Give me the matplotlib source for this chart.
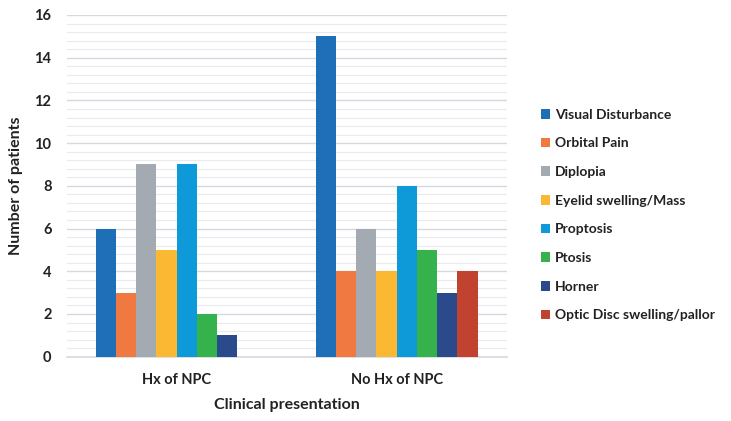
import numpy as np
import matplotlib.pyplot as plt
from matplotlib.ticker import MultipleLocator

# data
groups = ["Hx of NPC", "No Hx of NPC"]
series = ["Visual Disturbance", "Orbital Pain", "Diplopia", "Eyelid swelling/Mass",
          "Proptosis", "Ptosis", "Horner", "Optic Disc swelling/pallor"]
hx_npc = [6, 3, 9, 5, 9, 2, 1, 0]
no_hx_npc = [15, 4, 6, 4, 8, 5, 3, 4]
colors = ["#1F6EB8", "#F07841", "#A3AAB1", "#FBB832", "#0E9AD9",
          "#35B24C", "#2B4A8C", "#C1432F"]

plt.rcParams['font.family'] = ['Lato', 'DejaVu Sans']

fig = plt.figure(figsize=(7.31, 4.21), dpi=100)
ax = fig.add_axes([0.0912, 0.1527, 0.6019, 0.8117])

x = np.arange(len(groups))
n = len(series)
group_w = 0.735
bw = group_w / n
for i, name in enumerate(series):
    vals = [hx_npc[i], no_hx_npc[i]]
    offs = x - group_w / 2 + bw * (i + 0.5)
    ax.bar(offs, vals, width=bw, color=colors[i], label=name, zorder=3)

ax.set_xlim(-0.5, 1.5)
ax.set_ylim(0, 16)
ax.yaxis.set_major_locator(MultipleLocator(2))
ax.yaxis.set_minor_locator(MultipleLocator(0.4))
ax.grid(axis='y', which='major', color='#D5D9E0', linewidth=1.0, zorder=0)
ax.grid(axis='y', which='minor', color='#E8EAEE', linewidth=0.8, zorder=0)
ax.set_axisbelow(True)

for s in ['top', 'right', 'left']:
    ax.spines[s].set_visible(False)
ax.spines['bottom'].set_color('#D5D9E0')
ax.spines['bottom'].set_linewidth(1.2)
ax.tick_params(axis='both', which='both', length=0)
ax.tick_params(axis='y', pad=11)
ax.tick_params(axis='x', pad=12)

ax.set_xticks(x)
ax.set_xticklabels(groups, fontsize=10.5, fontweight='bold', color='#222222')
for lab in ax.get_yticklabels():
    lab.set_fontsize(10.5)
    lab.set_fontweight('bold')
    lab.set_color('#222222')

ax.set_xlabel("Clinical presentation", fontsize=11.5, fontweight='bold', color='#222222', labelpad=8)
ax.set_ylabel("Number of patients", fontsize=11.5, fontweight='bold', color='#222222', labelpad=8)

leg = ax.legend(loc='center left', bbox_to_anchor=(1.055, 0.415), frameon=False,
                handlelength=0.7, handleheight=0.7, handletextpad=0.35,
                labelspacing=1.2, borderpad=0.2,
                prop={'size': 10, 'weight': 'bold'})
for t in leg.get_texts():
    t.set_color('#222222')

fig.savefig("out.png", dpi=100)
